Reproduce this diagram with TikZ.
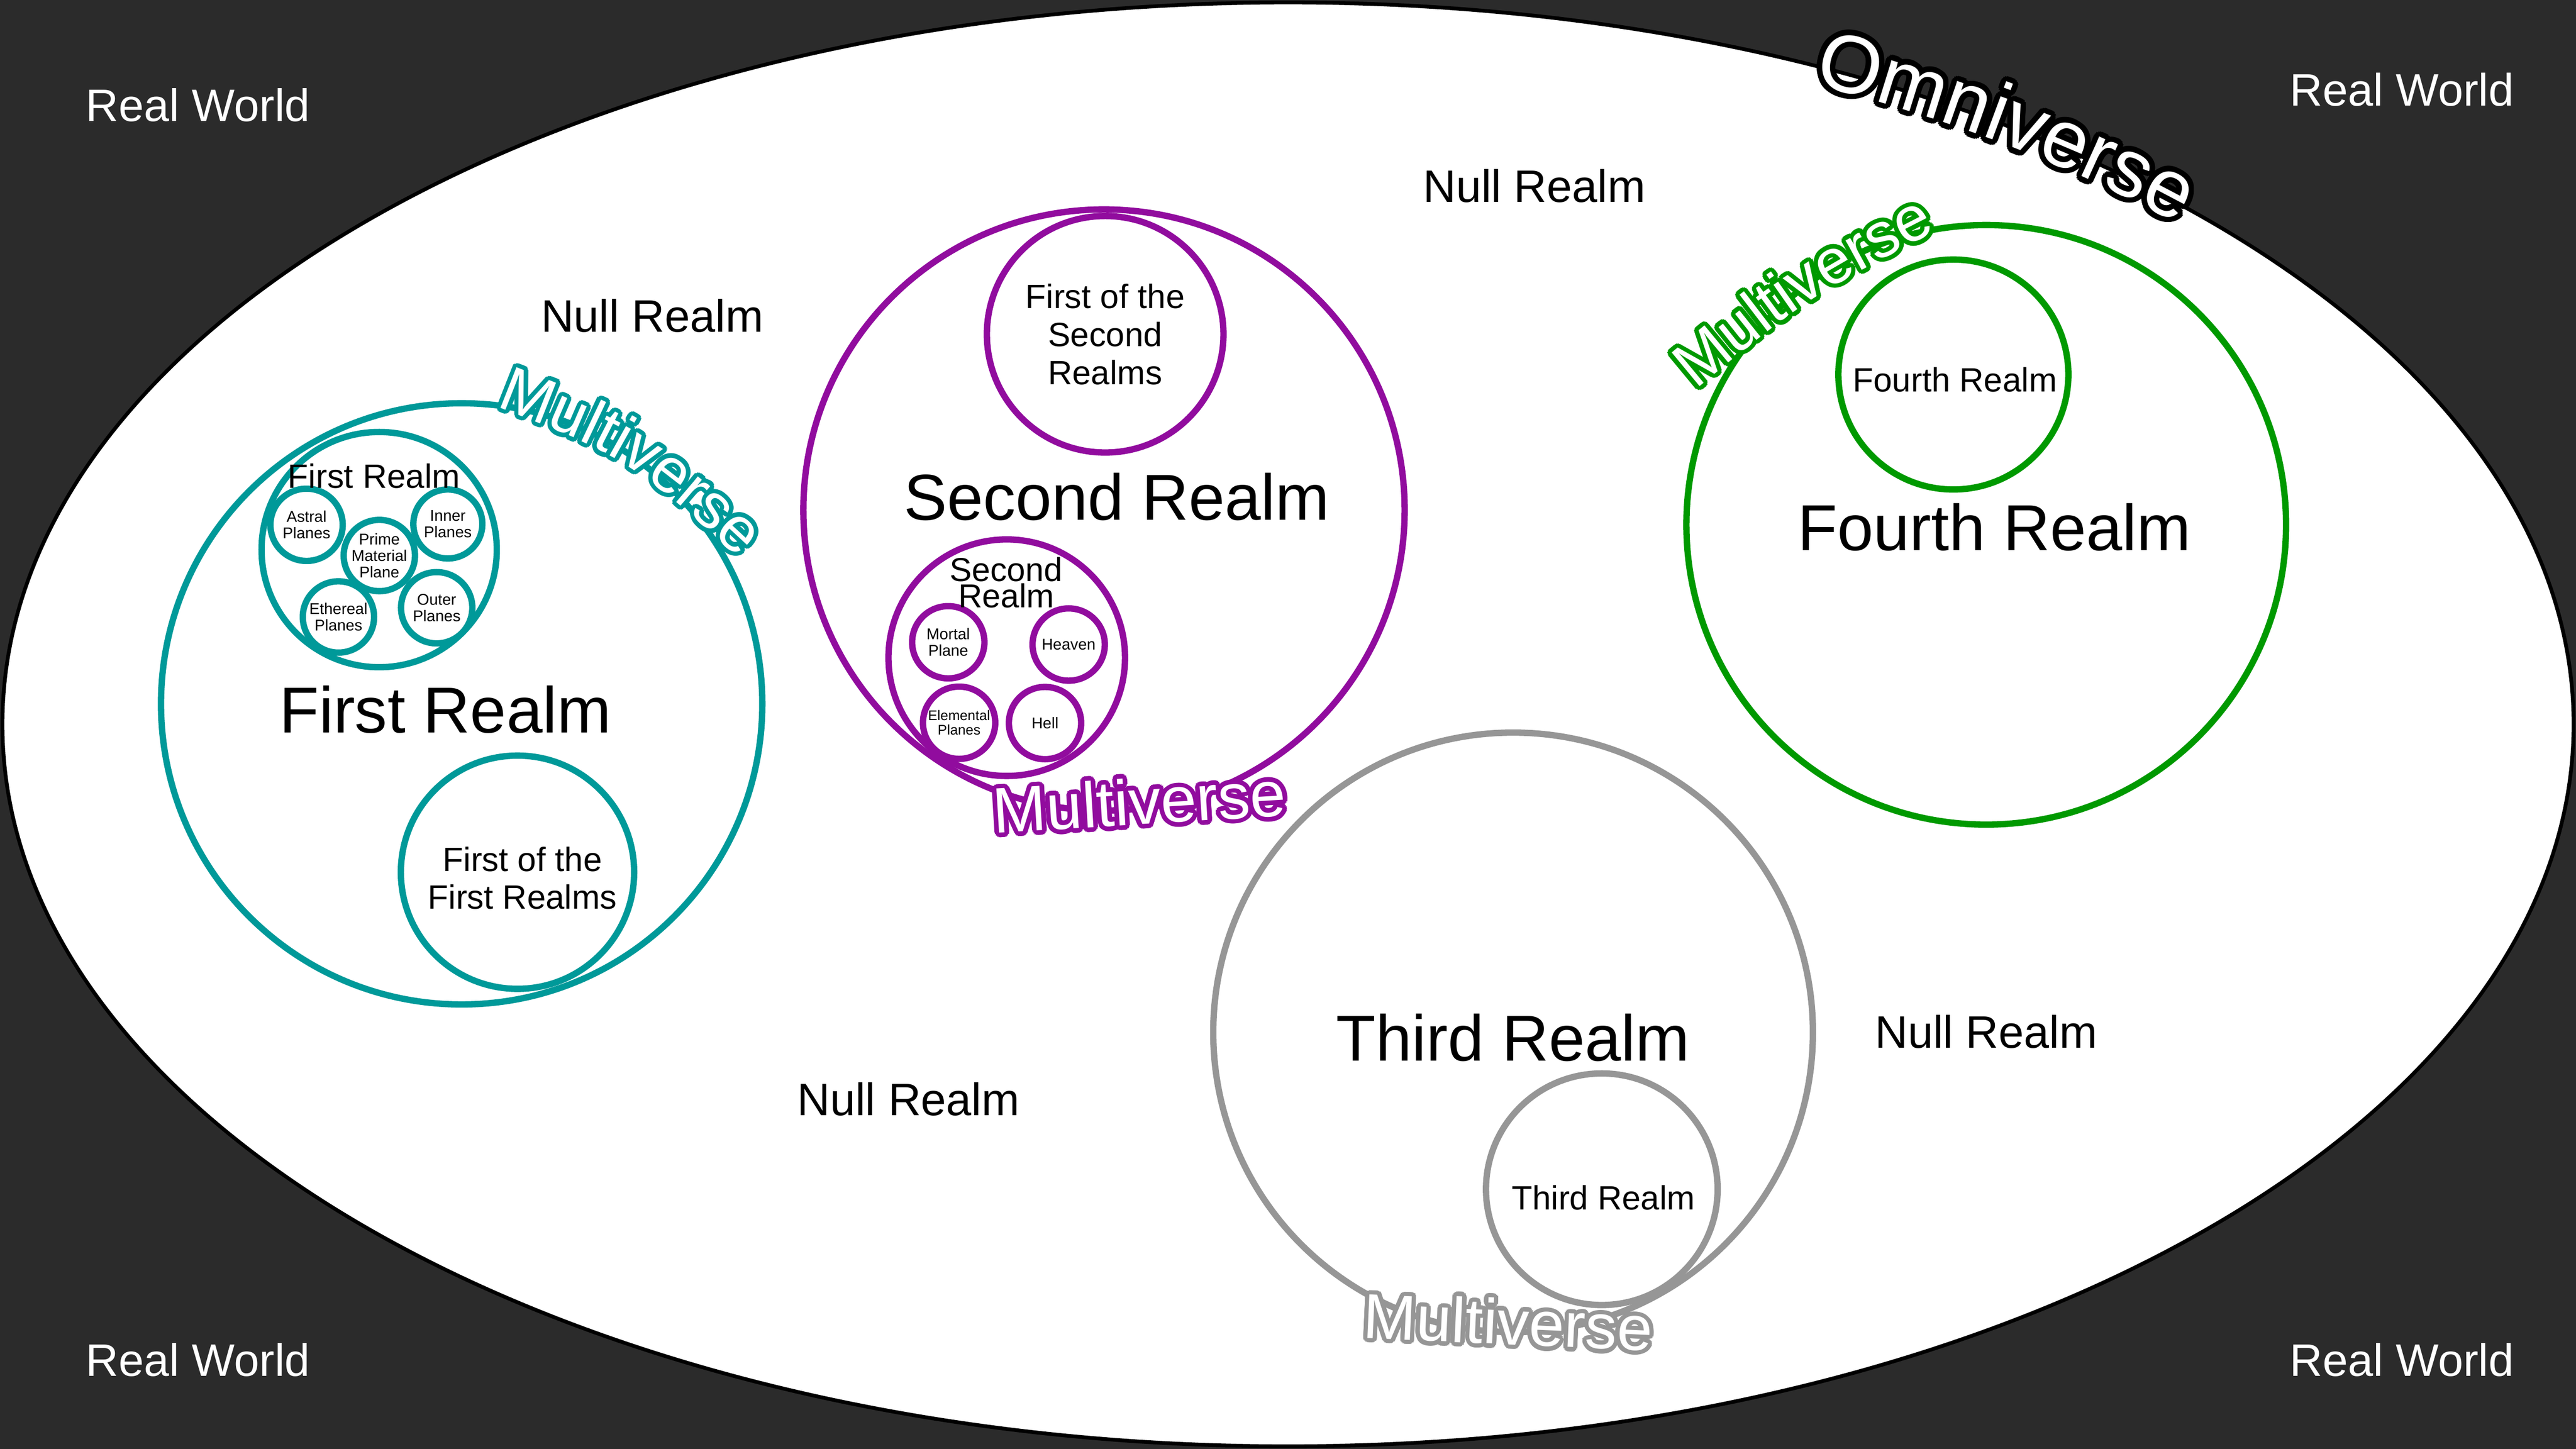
\documentclass[tikz,border=0pt]{standalone}
\usepackage{fontspec}
\setmainfont{Liberation Sans}
\usetikzlibrary{decorations.text}
\definecolor{bg}{HTML}{2B2B2B}
\definecolor{teal1}{RGB}{0,153,153}
\definecolor{purp}{RGB}{145,12,158}
\definecolor{grn}{RGB}{0,153,0}
\definecolor{gry}{RGB}{150,150,150}
% outlined text along a path: #1 colour, #2 size (pt), #3 outline offset, #4 raise, #5 path, #6 text
\newcommand\outtext[6]{%
  \foreach \ang in {0,20,...,340}{%
    \path[shift={(\ang:#3)},decorate,decoration={text along path,text align=center,raise=#4,
      text={|\fontsize{#2}{#2}\selectfont\color{#1}|#6}}] #5;%
  }%
  \path[decorate,decoration={text along path,text align=center,raise=#4,
      text={|\fontsize{#2}{#2}\selectfont\color{white}|#6}}] #5;%
}
\begin{document}
\begin{tikzpicture}[x=0.02cm,y=0.02cm,
  ring/.style={line width=2.2pt},
  bigl/.style={inner sep=0pt,anchor=base,font=\fontsize{22.5}{27}\selectfont},
  midl/.style={inner sep=0pt,anchor=base,font=\fontsize{11.67}{13.1}\selectfont},
  secl/.style={inner sep=0pt,anchor=base,font=\fontsize{11.5}{11.5}\selectfont},
  worldl/.style={inner sep=0pt,anchor=base,font=\fontsize{15.76}{19}\selectfont},
  tinyl/.style={inner sep=0pt,align=center,font=\fontsize{5.41}{5.69}\selectfont},
  tinyer/.style={inner sep=0pt,align=center,font=\fontsize{4.84}{4.95}\selectfont}]
\useasboundingbox (0,0) rectangle (1568,-882);
\fill[bg] (0,0) rectangle (1568,-882);
\draw[line width=1.3pt,fill=white] (784,-441) ellipse [x radius=782.5,y radius=439.5];

% Real World / Null Realm
\node[worldl,text=white] (rw1) at (120.5,-73.7) {Real World};
\node[worldl,text=white] (rw2) at (1462,-64.5) {Real World};
\node[worldl,text=white] (rw3) at (120.5,-837.7) {Real World};
\node[worldl,text=white] (rw4) at (1462,-837.7) {Real World};
\node[worldl] (nr1) at (397,-202) {Null Realm};
\node[worldl] (nr2) at (934,-123) {Null Realm};
\node[worldl] (nr3) at (553,-679) {Null Realm};
\node[worldl] (nr4) at (1209,-638) {Null Realm};

% First Realm (teal)
\draw[ring,teal1] (281,-428.5) circle[radius=183];
\draw[ring,teal1] (230.8,-334.6) circle[radius=71.6];
\draw[ring,teal1] (186.6,-319.5) circle[radius=22];
\draw[ring,teal1] (272.6,-319) circle[radius=21];
\draw[ring,teal1] (230.9,-338.2) circle[radius=21.7];
\draw[ring,teal1] (206,-375.6) circle[radius=21.7];
\draw[ring,teal1] (265.8,-370) circle[radius=21.7];
\draw[ring,teal1] (315,-531) circle[radius=71];
\node[midl] (fr1) at (227.7,-297.2) {First Realm};
\node[bigl] (fr2) at (271,-446) {First Realm};
\node[midl] (fr3) at (318,-530.4) {First of the};
\node[midl] (fr4) at (318,-553.4) {First Realms};
\node[tinyl] (fra) at (186.6,-319.5) {Astral\\Planes};
\node[tinyl] (fri) at (272.6,-319) {Inner\\Planes};
\node[tinyl] (frp) at (230.9,-338.2) {Prime\\Material\\Plane};
\node[tinyl] (fre) at (206,-375.6) {Ethereal\\Planes};
\node[tinyl] (fro) at (265.8,-370) {Outer\\Planes};

% Second Realm (purple)
\draw[ring,purp] (672,-310.5) circle[radius=183];
\draw[ring,purp] (672.7,-203.5) circle[radius=72];
\draw[ring,purp] (612.8,-400.4) circle[radius=72];
\draw[ring,purp] (577.2,-391) circle[radius=22];
\draw[ring,purp] (650.5,-392.4) circle[radius=22];
\draw[ring,purp] (583.8,-440) circle[radius=22];
\draw[ring,purp] (636.1,-440.2) circle[radius=22];
\node[midl] (sr1) at (672.7,-187.6) {First of the};
\node[midl] (sr2) at (672.7,-211) {Second};
\node[midl] (sr3) at (672.7,-234) {Realms};
\node[bigl] (sr4) at (679.7,-316.6) {Second Realm};
\node[secl] (sr5) at (612.5,-354) {Second};
\node[secl] (sr6) at (612.5,-370) {Realm};
\node[tinyl] (srm) at (577.2,-391) {Mortal\\Plane};
\node[tinyl] (srh) at (650.5,-392.4) {Heaven};
\node[tinyer] (sre) at (583.8,-440) {Elemental\\Planes};
\node[tinyl] (srl) at (636.1,-440.2) {Hell};

% Fourth Realm (green)
\draw[ring,grn] (1209,-319.5) circle[radius=182.5];
\draw[ring,grn] (1189,-228) circle[radius=70];
\node[midl] (qr1) at (1190,-238.4) {Fourth Realm};
\node[bigl] (qr2) at (1214,-335) {Fourth Realm};

% Third Realm (grey)
\draw[ring,gry] (921,-628.5) circle[radius=182.5];
\draw[ring,gry] (975,-724) circle[radius=70.5];
\node[bigl] (tr1) at (921,-646) {Third Realm};
\node[midl] (tr2) at (976,-736.4) {Third Realm};

% outlined labels
\outtext{teal1}{22}{1.5pt}{0pt}{(275.4,-237.1) .. controls (385,-278.9) .. (470.4,-359.3)}{Multiverse}
\outtext{purp}{22.3}{1.6pt}{0pt}{(579.5,-508.95) -- (809.1,-494.85)}{Multiverse}
\outtext{grn}{22}{1.5pt}{0pt}{(1011,-255) .. controls (1099.8,-180.6) .. (1203.2,-128.2)}{Multiverse}
\outtext{gry}{22}{1.5pt}{0pt}{(802.4,-813.3) -- (1032.2,-823.7)}{Multiverse}
\outtext{black}{28.4}{1.9pt}{-6.3pt}{(1038.8,-25.4) arc[start angle=71,end angle=39.3,x radius=782.5,y radius=439.5]}{Omniverse}
\end{tikzpicture}
\end{document}
